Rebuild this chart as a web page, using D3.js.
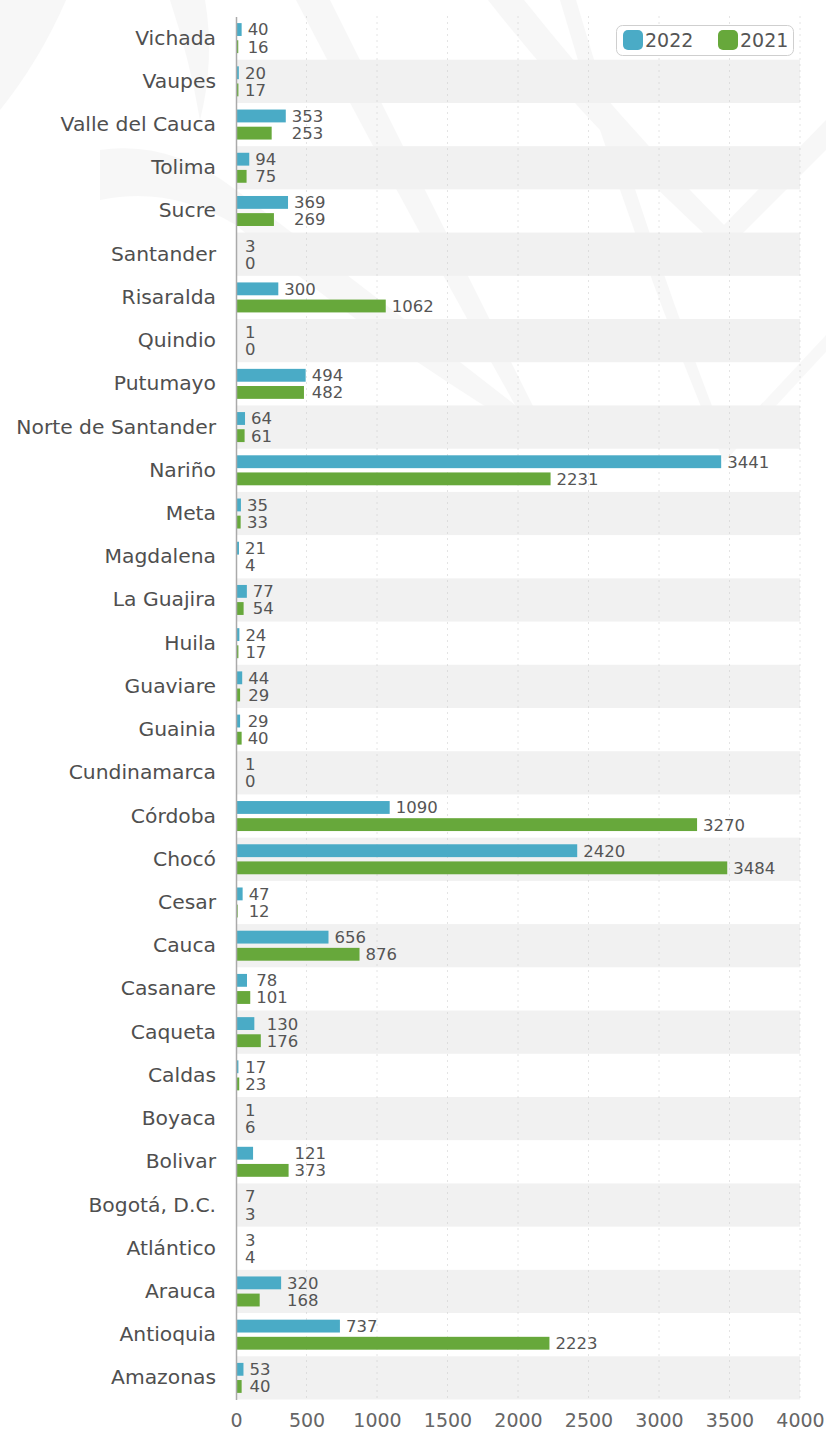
<!DOCTYPE html>
<html>
<head>
<meta charset="utf-8">
<script src="https://d3js.org/d3.v7.min.js"></script>
<style>
  body { margin: 0; background: #fff; }
  svg { display: block; font-family: "DejaVu Sans", sans-serif; }
</style>
</head>
<body>
<svg width="826" height="1441"></svg>
<script>
var categories = ["Vichada", "Vaupes", "Valle del Cauca", "Tolima", "Sucre", "Santander",
  "Risaralda", "Quindio", "Putumayo", "Norte de Santander", "Nariño", "Meta", "Magdalena",
  "La Guajira", "Huila", "Guaviare", "Guainia", "Cundinamarca", "Córdoba", "Chocó", "Cesar",
  "Cauca", "Casanare", "Caqueta", "Caldas", "Boyaca", "Bolivar", "Bogotá, D.C.", "Atlántico",
  "Arauca", "Antioquia", "Amazonas"];
var values2022 = [40, 20, 353, 94, 369, 3, 300, 1, 494, 64, 3441, 35, 21, 77, 24, 44, 29, 1,
  1090, 2420, 47, 656, 78, 130, 17, 1, 121, 7, 3, 320, 737, 53];
var values2021 = [16, 17, 253, 75, 269, 0, 1062, 0, 482, 61, 2231, 33, 4, 54, 17, 29, 40, 0,
  3270, 3484, 12, 876, 101, 176, 23, 6, 373, 3, 4, 168, 2223, 40];
var seriesNames = ["2022", "2021"];
var seriesColors = ["#4aabc6", "#67a83b"];
var xTicks = [0, 500, 1000, 1500, 2000, 2500, 3000, 3500, 4000];

var svg = d3.select("svg");
var plotL = 236, plotR = 800, plotT = 16.5, plotB = 1399.5;

// faint watermark shapes
var wm = svg.append("g").attr("fill", "#000").attr("opacity", 0.028);
[
  "M296,0 L330,0 Q420,180 540,420 L528,428 Q400,200 296,0 Z",
  "M488,0 L524,0 Q620,120 724,225 L826,120 L826,150 L724,252 Q590,130 488,0 Z",
  "M560,0 L576,0 Q650,250 726,442 L826,335 L826,352 L724,462 Q630,240 560,0 Z",
  "M100,150 Q170,140 236,190 Q380,300 532,418 L520,428 Q360,330 236,225 Q170,185 100,200 Z",
  "M0,0 L66,0 Q40,60 0,110 Z",
  "M170,0 L205,0 Q215,60 200,120 Q190,60 170,0 Z"
].forEach(function(d) { wm.append("path").attr("d", d); });

var x = d3.scaleLinear().domain([0, 4000]).range([plotL, plotR]);
var y = d3.scaleBand().domain(categories).range([plotT, plotB]);
var inner = d3.scaleBand().domain(seriesNames)
  .range([y.bandwidth() / 2 - 15, y.bandwidth() / 2 + 15]).paddingInner(0.25);

// alternating bands
svg.append("g").selectAll("rect")
  .data(categories.filter(function(d, i) { return i % 2 === 1; }))
  .join("rect")
  .attr("x", plotL).attr("width", plotR - plotL)
  .attr("y", function(d) { return y(d); })
  .attr("height", y.bandwidth())
  .attr("fill", "#f1f1f1");

// dotted grid
svg.append("g").selectAll("line")
  .data(xTicks.slice(1))
  .join("line")
  .attr("x1", function(d) { return x(d); }).attr("x2", function(d) { return x(d); })
  .attr("y1", plotT).attr("y2", plotB)
  .attr("stroke", "#c8c8c8").attr("stroke-width", 1)
  .attr("stroke-dasharray", "1,5");

// bars
var rows = categories.map(function(c, i) {
  return { cat: c, vals: [values2022[i], values2021[i]] };
});
var rowG = svg.append("g").selectAll("g")
  .data(rows)
  .join("g")
  .attr("transform", function(d) { return "translate(0," + y(d.cat) + ")"; });

rowG.selectAll("rect")
  .data(function(d) { return d.vals.map(function(v, k) { return { v: v, k: k }; }); })
  .join("rect")
  .attr("x", x(0))
  .attr("y", function(d) { return inner(seriesNames[d.k]); })
  .attr("height", inner.bandwidth())
  .attr("width", function(d) { return x(d.v) - x(0); })
  .attr("fill", function(d) { return seriesColors[d.k]; });

// value labels: aligned when bars are close in length
rowG.each(function(d) {
  var e0 = x(d.vals[0]), e1 = x(d.vals[1]);
  var xs = Math.abs(d.vals[0] - d.vals[1]) < 260 && !(d.vals[0] > 600 && d.vals[1] > 600) ?
    [Math.max(e0, e1), Math.max(e0, e1)] : [e0, e1];
  d3.select(this).selectAll("text.val")
    .data(d.vals)
    .join("text")
    .attr("class", "val")
    .attr("x", function(v, k) { return Math.max(xs[k], x(0) + 3) + 6; })
    .attr("y", function(v, k) { return inner(seriesNames[k]) + inner.bandwidth() / 2; })
    .attr("dy", "0.36em")
    .attr("font-size", 16.5)
    .attr("fill", "#555")
    .text(function(v) { return v; });
});

// category axis
var yAxis = svg.append("g")
  .attr("transform", "translate(" + plotL + ",0)")
  .call(d3.axisLeft(y).tickSize(0).tickPadding(20));
yAxis.select(".domain").attr("stroke", "#aaa").attr("stroke-width", 1.5);
yAxis.selectAll("text").attr("font-size", 20.3).attr("fill", "#4f4f4f")
  .attr("font-family", "DejaVu Sans, sans-serif");

// value axis
var xAxis = svg.append("g")
  .attr("transform", "translate(0," + plotB + ")")
  .call(d3.axisBottom(x).tickValues(xTicks).tickFormat(d3.format("d"))
    .tickSize(0).tickPadding(14));
xAxis.select(".domain").remove();
xAxis.selectAll("text").attr("font-size", 19).attr("fill", "#666")
  .attr("font-family", "DejaVu Sans, sans-serif");

// legend
var lg = svg.append("g");
lg.append("rect").attr("x", 616.5).attr("y", 25.5).attr("width", 177).attr("height", 30)
  .attr("rx", 6).attr("fill", "#fff").attr("stroke", "#cfcfcf");
var lx = [623, 718];
seriesNames.forEach(function(s, k) {
  lg.append("rect").attr("x", lx[k]).attr("y", 30).attr("width", 20).attr("height", 20)
    .attr("rx", 5).attr("fill", seriesColors[k]);
  lg.append("text").attr("x", lx[k] + 22).attr("y", 40).attr("dy", "0.36em")
    .attr("font-size", 19).attr("fill", "#555").text(s);
});
</script>
</body>
</html>
